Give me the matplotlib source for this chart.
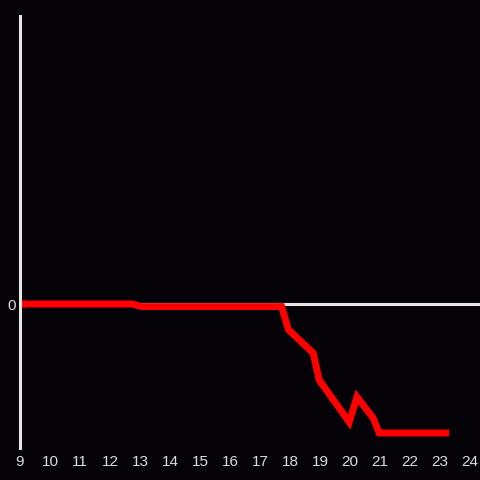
import matplotlib
matplotlib.use("Agg")
import matplotlib.pyplot as plt

# hours of day and value (arbitrary units)
hours = [9.0, 12.73, 13.06, 17.72, 17.94, 18.77, 18.97, 19.97, 20.23, 20.77, 20.97, 23.3]
values = [0.0, 0.0, -0.26, -0.26, -2.55, -4.9, -7.6, -11.8, -9.3, -11.4, -12.9, -12.9]
xticks = list(range(9, 25))

bg = '#050307'
fg = '#dcdcdc'

fig = plt.figure(figsize=(4.8, 4.8), dpi=100, facecolor=bg)
ax = fig.add_axes([20/480, 32/480, 460/480, 432/480], facecolor=bg)

ax.axhline(0, color='#e6e6e6', lw=2.2, zorder=1)
ax.plot(hours, values, color='#ff0000', lw=5.0, solid_joinstyle='miter', solid_capstyle='butt', zorder=2)

ax.set_xlim(9, 24.33)
ax.set_ylim(-14.4, 28.8)
ax.set_xticks(xticks)
ax.set_xticklabels([str(t) for t in xticks])
ax.set_yticks([0])
ax.set_yticklabels(['0'])
ax.tick_params(length=0, colors=fg, labelsize=11, labelfontfamily='Liberation Sans')
ax.tick_params(axis='x', pad=5)
ax.tick_params(axis='y', pad=3)

for s in ['top', 'right', 'bottom']:
    ax.spines[s].set_visible(False)
ax.spines['left'].set_color('#e6e6e6')
ax.spines['left'].set_linewidth(2.2)

fig.savefig('out.png', dpi=100, facecolor=bg)
